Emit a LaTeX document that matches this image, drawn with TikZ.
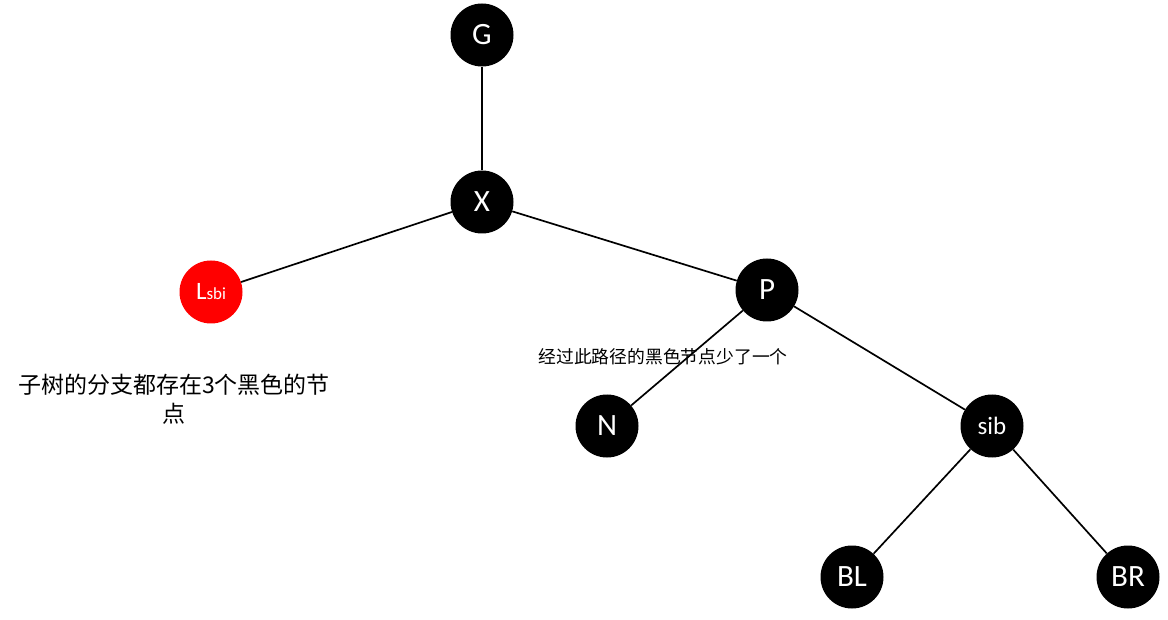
\documentclass[tikz,border=0pt]{standalone}
\usepackage{fontspec}
\setmainfont{Carlito}
\newfontfamily\cjk{Noto Sans CJK SC}
\begin{document}
\begin{tikzpicture}[x=1pt,y=-1pt,
  tnode/.style={circle,fill=black,text=white,minimum size=63pt,inner sep=0pt,font=\fontsize{31}{31}\selectfont},
  rnode/.style={tnode,fill=red},
  link/.style={draw=black,line width=1.7pt}]
\useasboundingbox (0,0) rectangle (1168,620);
\node[font=\cjk\fontsize{23}{29}\selectfont,align=center] (note1) at (174,399) {子树的分支都存在3个黑色的节\\点};
\node[font=\cjk\fontsize{17.8}{20}\selectfont] (note2) at (663,357) {经过此路径的黑色节点少了一个};
\node[tnode] (G) at (482,35) {G};
\node[tnode] (X) at (482,202) {X};
\node[rnode] (L) at (211,292) {\fontsize{25}{25}\selectfont L\fontsize{17}{17}\selectfont sbi};
\node[tnode] (P) at (767,290) {P};
\node[tnode] (N) at (607,426) {N};
\node[tnode,font=\fontsize{25}{25}\selectfont] (sib) at (992,426) {sib};
\node[tnode] (BL) at (852,577) {BL};
\node[tnode] (BR) at (1128,577) {BR};
\draw[link] (G) -- (X);
\draw[link] (X) -- (L);
\draw[link] (X) -- (P);
\draw[link] (P) -- (N);
\draw[link] (P) -- (sib);
\draw[link] (sib) -- (BL);
\draw[link] (sib) -- (BR);
\end{tikzpicture}
\end{document}
